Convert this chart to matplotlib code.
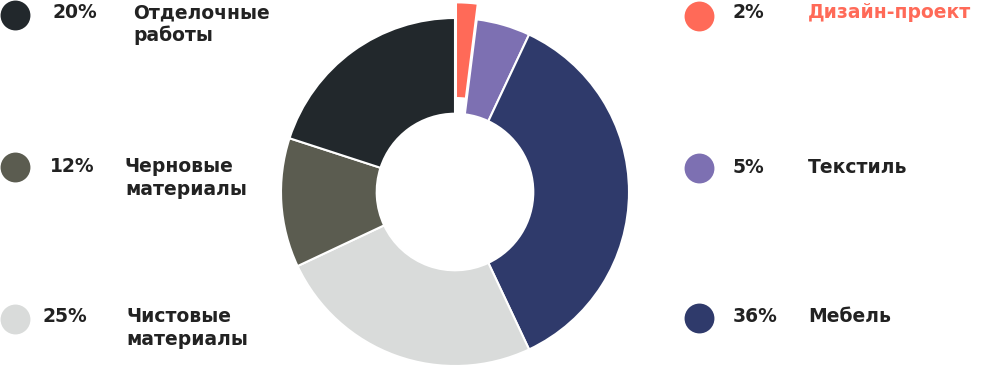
import matplotlib.pyplot as plt

plt.rcParams['font.family'] = ['DejaVu Sans']

# data, clockwise from the top
labels = ['Дизайн-проект', 'Текстиль', 'Мебель', 'Чистовые\nматериалы', 'Черновые\nматериалы', 'Отделочные\nработы']
shares = [2, 5, 36, 25, 12, 20]
colors = ['#ff6a58', '#7d70b2', '#2f3a6b', '#d9dbda', '#5b5c50', '#22282c']
explode = [0.09, 0, 0, 0, 0, 0]

# legend placement in pixels (marker x, marker y, text baseline, pct x, label x)
legend_pos = [
    (699, 16, 18, 733, 808),
    (699, 168, 173, 733, 808),
    (699, 318, 322, 733, 808),
    (15, 319, 322, 43, 126),
    (15, 167, 172, 50, 125),
    (15, 15, 18, 52, 133),
]

W, H = 991, 382
fig = plt.figure(figsize=(W / 100, H / 100), dpi=100)

cx, cy, r = 455, 192, 174
ax = fig.add_axes([(cx - r) / W, (H - cy - r) / H, 2 * r / W, 2 * r / H])
wedges, _ = ax.pie(shares, colors=colors, explode=explode, startangle=90,
                   counterclock=False, radius=1,
                   wedgeprops=dict(width=0.55, edgecolor='white', linewidth=1.5))
for w in wedges:
    w.set_clip_on(False)
ax.set_xlim(-1, 1)
ax.set_ylim(-1, 1)
ax.set_aspect('equal')
ax.axis('off')

ov = fig.add_axes([0, 0, 1, 1])
ov.set_xlim(0, W)
ov.set_ylim(H, 0)
ov.axis('off')

fs = 13.5
for lab, pct, col, (mx, my, by, px, lx) in zip(labels, shares, colors, legend_pos):
    ov.scatter([mx], [my], s=21.5 ** 2, color=col, linewidths=0, zorder=3, clip_on=False)
    ov.text(px, by, f'{pct}%', fontsize=fs, fontweight='bold', color='#222222',
            ha='left', va='baseline')
    tcol = '#ff6a58' if lab == 'Дизайн-проект' else '#222222'
    for i, line in enumerate(lab.split('\n')):
        ov.text(lx, by + i * 23, line, fontsize=fs, fontweight='bold', color=tcol,
                ha='left', va='baseline')

fig.savefig('out.png', dpi=100)
